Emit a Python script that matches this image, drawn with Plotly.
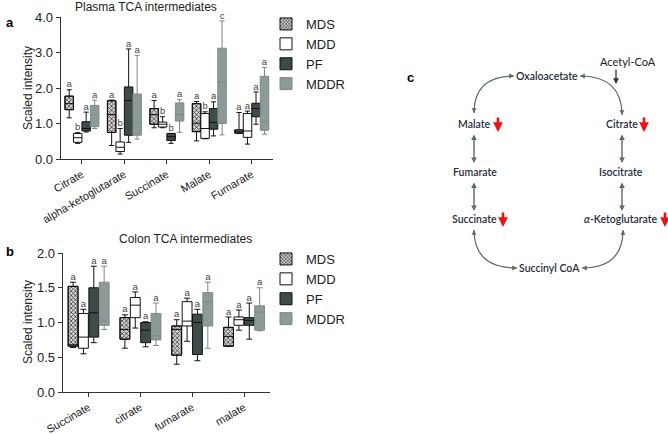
import plotly.graph_objects as go

W, H = 668, 434

GROUPS = ["MDS", "MDD", "PF", "MDDR"]

# ---------- Panel a: Plasma TCA intermediates ----------
plasma_categories = ["Citrate", "alpha-ketoglutarate", "Succinate", "Malate", "Fumarate"]
plasma_MDS = dict(lo=[1.16, 0.38, 0.88, 0.51, 0.72], q1=[1.39, 0.75, 0.98, 0.77, 0.73],
                  med=[1.56, 1.25, 1.25, 1.01, 0.77], q3=[1.77, 1.64, 1.42, 1.56, 0.82],
                  hi=[1.95, 1.66, 1.65, 1.62, 1.31])
plasma_MDD = dict(lo=[0.44, 0.14, 0.88, 0.57, 0.42], q1=[0.47, 0.21, 0.90, 0.58, 0.61],
                  med=[0.60, 0.33, 0.98, 0.86, 0.79], q3=[0.72, 0.48, 1.04, 1.28, 1.28],
                  hi=[0.74, 0.86, 1.19, 1.33, 1.35])
plasma_PF = dict(lo=[0.76, 0.47, 0.44, 0.65, 0.98], q1=[0.79, 0.67, 0.52, 0.84, 1.19],
                 med=[0.86, 1.65, 0.63, 1.03, 1.42], q3=[1.05, 2.03, 0.72, 1.42, 1.57],
                 hi=[1.32, 3.10, 0.72, 1.61, 1.89])
plasma_MDDR = dict(lo=[0.86, 0.56, 0.75, 0.68, 0.70], q1=[0.91, 0.67, 1.07, 1.00, 0.81],
                   med=[1.25, 1.02, 1.25, 2.17, 1.05], q3=[1.51, 1.83, 1.58, 3.12, 2.33],
                   hi=[1.66, 2.92, 1.68, 3.89, 2.58])
plasma_letters = {"MDS": ["a", "a", "a", "a", "a"], "MDD": ["b", "b", "b", "b", "a"],
                  "PF": ["a", "a", "b", "a", "a"], "MDDR": ["a", "a", "a", "c", "a"]}
plasma_yticks = [0, 1, 2, 3, 4]

# ---------- Panel b: Colon TCA intermediates ----------
colon_categories = ["Succinate", "citrate", "fumarate", "malate"]
colon_MDS = dict(lo=[0.64, 0.63, 0.40, 0.66], q1=[0.66, 0.76, 0.53, 0.66],
                 med=[0.68, 0.90, 0.90, 0.80], q3=[1.52, 1.07, 0.95, 0.93],
                 hi=[1.58, 1.11, 1.04, 1.08])
colon_MDD = dict(lo=[0.55, 0.92, 0.73, 0.89], q1=[0.63, 1.07, 0.95, 0.96],
                 med=[0.79, 1.25, 1.02, 1.04], q3=[1.13, 1.36, 1.30, 1.08],
                 hi=[1.19, 1.44, 1.35, 1.18])
colon_PF = dict(lo=[0.71, 0.65, 0.45, 0.76], q1=[0.79, 0.71, 0.54, 0.96],
                med=[1.14, 0.89, 1.00, 1.03], q3=[1.50, 1.00, 1.12, 1.07],
                hi=[1.81, 1.01, 1.19, 1.28])
colon_MDDR = dict(lo=[0.90, 0.67, 0.63, 0.88], q1=[0.96, 0.75, 0.95, 0.89],
                  med=[1.02, 0.81, 1.30, 1.15], q3=[1.58, 1.13, 1.43, 1.24],
                  hi=[1.81, 1.28, 1.58, 1.50])
colon_letters = {g: ["a", "a", "a", "a"] for g in GROUPS}
colon_yticks = [0, 0.5, 1.0, 1.5, 2.0]

# ---------- Panel c: TCA cycle diagram ----------
cycle_nodes = ["Oxaloacetate", "Malate", "Fumarate", "Succinate",
               "Succinyl CoA", "<i>α</i>-Ketoglutarate", "Isocitrate", "Citrate"]
decreased_nodes = ["Malate", "Citrate", "Succinate", "<i>α</i>-Ketoglutarate"]
acetyl_label = "Acetyl-CoA"

# ---------- styles / layout (pixel helpers) ----------
FONT = "Arial, Liberation Sans, sans-serif"
DFONT = "Lato, Open Sans, sans-serif"
OFFSETS = [-0.3, -0.1, 0.1, 0.3]
STYLE = {
    "MDS": dict(fill="rgba(0,0,0,0)", line="#111111"),
    "MDD": dict(fill="#ffffff", line="#111111"),
    "PF": dict(fill="#3e4b4b", line="#111111"),
    "MDDR": dict(fill="#8c9b97", line="#7f8886"),
}


def X(p):
    return p / W


def Y(p):
    return 1 - p / H


fig = go.Figure()


def add_panel(cats, stats, letters, xa, ya, width, legend):
    n = len(cats)
    for gi, g in enumerate(GROUPS):
        s = stats[g]
        xs = [ci + OFFSETS[gi] for ci in range(n)]
        st = STYLE[g]
        if g == "MDS":
            fig.add_trace(go.Bar(
                x=xs, y=[b - a for a, b in zip(s["q1"], s["q3"])], base=s["q1"],
                width=width, name=g, legend=legend, xaxis=xa, yaxis=ya,
                marker=dict(color="#d0d0d0",
                            line=dict(color="#111111", width=1),
                            pattern=dict(shape="x", fgcolor="#3a3a3a", bgcolor="#d6d6d6",
                                         size=3, solidity=0.45, fillmode="replace")),
                hoverinfo="skip"))
        fig.add_trace(go.Box(
            x=xs, q1=s["q1"], median=s["med"], q3=s["q3"],
            lowerfence=s["lo"], upperfence=s["hi"], width=width,
            fillcolor=st["fill"], line=dict(color=st["line"], width=1),
            whiskerwidth=0.6, boxpoints=False, name=g, legend=legend,
            showlegend=(g != "MDS"), xaxis=xa, yaxis=ya, hoverinfo="skip"))
        fig.add_trace(go.Scatter(
            x=xs, y=s["hi"], text=letters[g], mode="text", textposition="top center",
            textfont=dict(family=FONT, size=9.5, color="#444444"), cliponaxis=False,
            xaxis=xa, yaxis=ya, showlegend=False, hoverinfo="skip"))


add_panel(plasma_categories,
          {"MDS": plasma_MDS, "MDD": plasma_MDD, "PF": plasma_PF, "MDDR": plasma_MDDR},
          plasma_letters, "x", "y", 0.2, "legend")
add_panel(colon_categories,
          {"MDS": colon_MDS, "MDD": colon_MDD, "PF": colon_PF, "MDDR": colon_MDDR},
          colon_letters, "x2", "y2", 0.19, "legend2")

axis_common = dict(showline=True, linecolor="#333333", linewidth=1, ticks="outside",
                   ticklen=4, tickcolor="#333333", showgrid=False, zeroline=False,
                   automargin=False, fixedrange=True)
xtickfont = dict(family=FONT, size=11, color="#222222")
ytickfont = dict(family=FONT, size=13, color="#222222")

fig.update_layout(
    width=W, height=H, autosize=False, margin=dict(l=0, r=0, t=0, b=0, pad=0, autoexpand=False),
    paper_bgcolor="white", plot_bgcolor="rgba(0,0,0,0)",
    barmode="overlay", showlegend=True,
    xaxis=dict(domain=[X(60.7), X(273)], range=[-0.5, len(plasma_categories) - 0.5],
               tickvals=list(range(len(plasma_categories))), ticktext=plasma_categories,
               tickangle=-30, anchor="y", tickfont=xtickfont, **axis_common),
    yaxis=dict(domain=[Y(159), Y(17)], range=[0, 4], tickvals=plasma_yticks,
               tickformat=".1f", anchor="x", tickfont=ytickfont, **axis_common),
    xaxis2=dict(domain=[X(62.7), X(270)], range=[-0.5, len(colon_categories) - 0.5],
                tickvals=list(range(len(colon_categories))), ticktext=colon_categories,
                tickangle=-30, anchor="y2", tickfont=xtickfont, **axis_common),
    yaxis2=dict(domain=[Y(392), Y(253)], range=[0, 2], tickvals=colon_yticks,
                tickformat=".1f", anchor="x2", tickfont=ytickfont, **axis_common),
    legend=dict(x=X(266), y=Y(9), xanchor="left", yanchor="top",
                font=dict(family=FONT, size=13, color="#222222"),
                bgcolor="rgba(0,0,0,0)", itemclick=False, itemdoubleclick=False),
    legend2=dict(x=X(266), y=Y(244), xanchor="left", yanchor="top",
                 font=dict(family=FONT, size=13, color="#222222"),
                 bgcolor="rgba(0,0,0,0)", itemclick=False, itemdoubleclick=False),
)

PAPER = dict(xref="paper", yref="paper", xanchor="center", yanchor="middle")
ann = []
# titles and labels
ann.append(dict(x=X(146), y=Y(7), text="Plasma TCA intermediates", showarrow=False,
                font=dict(family=FONT, size=12, color="#222222"), **PAPER))
ann.append(dict(x=X(185), y=Y(239), text="Colon TCA intermediates", showarrow=False,
                font=dict(family=FONT, size=12, color="#222222"), **PAPER))
ann.append(dict(x=X(28), y=Y(88), text="Scaled intensity", textangle=-90, showarrow=False,
                font=dict(family=FONT, size=12, color="#222222"), **PAPER))
ann.append(dict(x=X(28), y=Y(322), text="Scaled intensity", textangle=-90, showarrow=False,
                font=dict(family=FONT, size=12, color="#222222"), **PAPER))
for lab, (lx, ly) in zip(["a", "b", "c"], [(10, 22), (10, 251), (410, 77)]):
    ann.append(dict(x=X(lx), y=Y(ly), text="<b>%s</b>" % lab, showarrow=False,
                    font=dict(family=FONT, size=13, color="#000000"), **PAPER))

# diagram node positions (pixels)
node_pos = {
    "Oxaloacetate": (547, 76), "Malate": (474, 124), "Fumarate": (475, 172),
    "Succinate": (474, 219), "Succinyl CoA": (549, 268),
    "<i>α</i>-Ketoglutarate": (621, 219), "Isocitrate": (621, 172), "Citrate": (622, 124),
}
red_pos = {"Malate": 498, "Citrate": 644, "Succinate": 503, "<i>α</i>-Ketoglutarate": 665}
TXT = "#1f2e3d"
ARC = "#5d6b6c"
for nname in cycle_nodes:
    px_, py_ = node_pos[nname]
    ann.append(dict(x=X(px_), y=Y(py_), text=nname, showarrow=False,
                    font=dict(family=DFONT, size=10.5, color=TXT, weight=600), **PAPER))
for nname in decreased_nodes:
    rx = red_pos[nname]
    ry = node_pos[nname][1]
    ann.append(dict(x=X(rx), y=Y(ry + 8), ax=0, ay=-16, text="", showarrow=True,
                    arrowhead=2, arrowsize=0.75, arrowwidth=2.6, arrowcolor="#ee1111", **PAPER))
ann.append(dict(x=X(628), y=Y(62), text=acetyl_label, showarrow=False,
                font=dict(family=DFONT, size=11, color="#222222"), **PAPER))
ann.append(dict(x=X(616), y=Y(84), ax=0, ay=-16, text="", showarrow=True,
                arrowhead=2, arrowsize=0.9, arrowwidth=1.3, arrowcolor="#3a2a4e", **PAPER))
# vertical double arrows
for vx, y0, y1 in [(474, 133, 163), (474, 181, 211), (622, 133, 163), (622, 181, 211)]:
    ann.append(dict(x=X(vx), y=Y(y1), ax=0, ay=y0 - y1, text="", showarrow=True,
                    arrowhead=2, startarrowhead=2, arrowside="end+start",
                    arrowsize=0.8, startarrowsize=0.8, arrowwidth=1.4, arrowcolor=ARC,
                    **PAPER))
# curved arrows: (start, control, end), arrowheads at both ends
curves = [((474, 113), (474, 76), (514, 76)),
          ((622, 115), (622, 76), (580, 76)),
          ((474, 230), (474, 268), (517, 268)),
          ((623, 230), (623, 268), (582, 268))]
shapes = []
for (p0, c, p1) in curves:
    path = "M %f,%f Q %f,%f %f,%f" % (X(p0[0]), Y(p0[1]), X(c[0]), Y(c[1]), X(p1[0]), Y(p1[1]))
    shapes.append(dict(type="path", path=path, xref="paper", yref="paper",
                       line=dict(color=ARC, width=1.2)))
    for (pt, ctl) in [(p0, c), (p1, c)]:
        dx, dy = pt[0] - ctl[0], pt[1] - ctl[1]
        ln = (dx * dx + dy * dy) ** 0.5
        ann.append(dict(x=X(pt[0]), y=Y(pt[1]), ax=-dx / ln * 6, ay=-dy / ln * 6, text="",
                        showarrow=True, arrowhead=2, arrowsize=0.8, arrowwidth=1.2,
                        arrowcolor=ARC, **PAPER))

fig.update_layout(annotations=ann, shapes=shapes)
fig.write_html("out.html", config={"displayModeBar": False},
               post_script="document.body.style.margin='0';document.body.style.padding='0';")
